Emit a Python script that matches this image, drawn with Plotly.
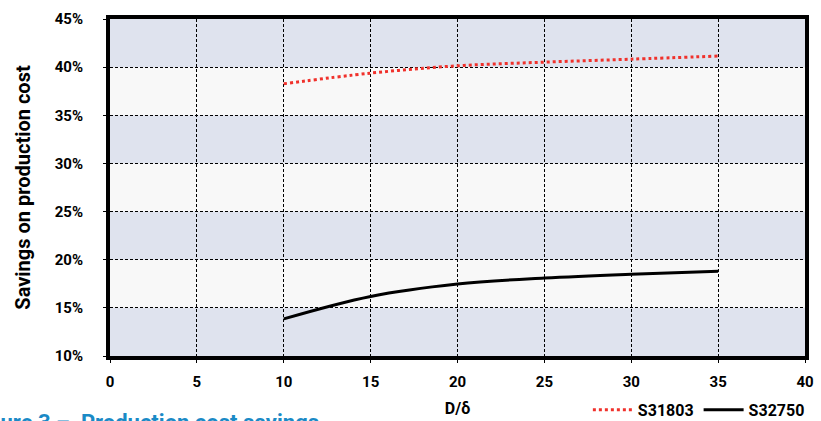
import plotly.graph_objects as go

# Data
d_ratio = [10, 15, 20, 25, 30, 35]
s31803 = [0.3827, 0.3938, 0.4014, 0.4052, 0.4083, 0.4115]
s32750 = [0.1385, 0.1618, 0.1747, 0.1810, 0.1850, 0.1880]

x_ticks = [0, 5, 10, 15, 20, 25, 30, 35, 40]
y_ticks = [0.10, 0.15, 0.20, 0.25, 0.30, 0.35, 0.40, 0.45]

FONT = "Roboto, Liberation Sans, sans-serif"
BAND = "#dfe3ee"
LIGHT = "#f8f8f8"

fig = go.Figure()
fig.add_trace(go.Scatter(
    x=d_ratio, y=s31803, mode="lines", name="S31803",
    line=dict(color="#f0312b", width=3, dash="dot", shape="spline"),
))
fig.add_trace(go.Scatter(
    x=d_ratio, y=s32750, mode="lines", name="S32750",
    line=dict(color="black", width=3, shape="spline"),
))

# alternating background bands (10-15, 20-25, 30-35, 40-45)
for i in range(0, len(y_ticks) - 1, 2):
    fig.add_shape(type="rect", xref="paper", yref="y", x0=0, x1=1,
                  y0=y_ticks[i], y1=y_ticks[i + 1],
                  fillcolor=BAND, line=dict(width=0), layer="below")

fig.update_layout(
    width=821, height=421,
    margin=dict(l=110, r=16, t=19, b=65, autoexpand=False),
    paper_bgcolor="white", plot_bgcolor=LIGHT,
    font=dict(family=FONT, color="black"),
    showlegend=True,
    legend=dict(orientation="h", x=1.007, xanchor="right", y=-0.160, yanchor="middle",
                font=dict(family=FONT, size=16, color="black", weight="bold"),
                bgcolor="rgba(0,0,0,0)", itemwidth=40, tracegroupgap=0),
    annotations=[dict(
        text="Figure 3 –  Production cost savings", xref="paper", yref="paper",
        x=-0.204, y=-0.154, xanchor="left", yanchor="top", showarrow=False,
        font=dict(family=FONT, size=22, color="#1a8ac6", weight="bold"))],
)

fig.update_xaxes(
    range=[0, 40], tickvals=x_ticks, ticktext=[str(v) for v in x_ticks],
    showgrid=True, gridcolor="black", gridwidth=1.3, griddash="3px,2px",
    showline=True, linecolor="black", linewidth=4, mirror=True,
    ticks="outside", ticklen=3, tickcolor="black", tickwidth=1,
    ticklabelstandoff=6, automargin=False,
    tickfont=dict(size=15, family=FONT, weight="bold"),
    title=dict(text="D/δ", font=dict(size=16, family=FONT, weight="bold"), standoff=14),
    zeroline=False,
)
fig.update_yaxes(
    range=[0.10, 0.45], tickvals=y_ticks, tickformat=".0%",
    showgrid=True, gridcolor="black", gridwidth=1.3, griddash="3px,2px",
    showline=True, linecolor="black", linewidth=4, mirror=True,
    ticks="outside", ticklen=3, tickcolor="black", tickwidth=1,
    ticklabelstandoff=17, automargin=False,
    tickfont=dict(size=15, family=FONT, weight="bold"),
    title=dict(text="Savings on production cost", font=dict(size=20, family=FONT, weight="bold"), standoff=20),
    zeroline=False,
)

fig.write_html("out.html", config={"displayModeBar": False},
               post_script="document.body.style.margin='0';document.body.style.overflow='hidden';")
